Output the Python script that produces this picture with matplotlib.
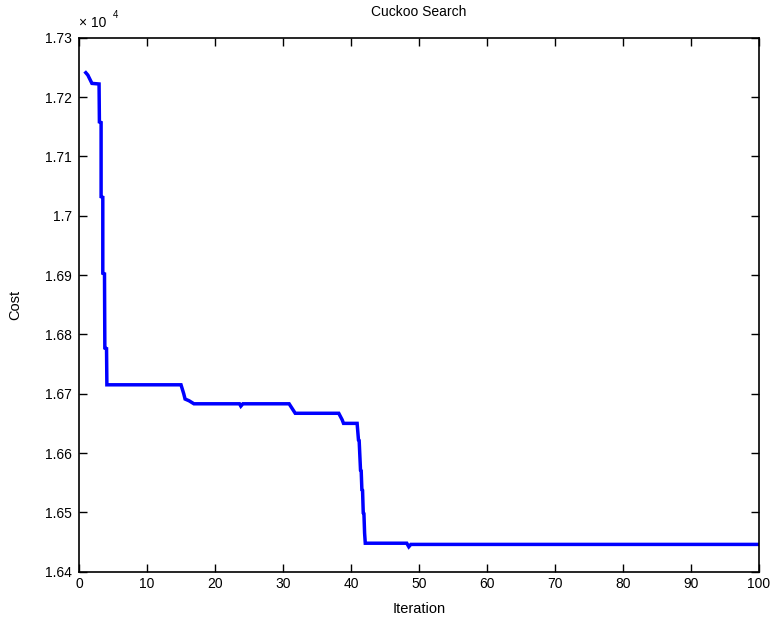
import matplotlib
matplotlib.use("Agg")
import matplotlib.pyplot as plt
from matplotlib.ticker import FuncFormatter, MultipleLocator

# best cost found so far, sampled at the points where it changes
iteration = [1.0, 1.3, 1.9, 2.95, 3.0, 3.25, 3.25, 3.5, 3.5, 3.75, 3.8, 4.05, 4.1,
             15.0, 15.4, 15.6, 16.2, 16.9, 23.6, 23.8, 24.1, 30.9, 31.8, 38.2,
             38.7, 38.9, 40.9, 41.1, 41.2, 41.4, 41.5, 41.6, 41.7, 41.8, 41.9,
             42.0, 42.1, 48.2, 48.5, 48.8, 100.0]
cost = [17241, 17237, 17223, 17222, 17158, 17157, 17032, 17031, 16903, 16902,
        16777, 16776, 16715, 16715, 16700, 16691, 16688, 16683, 16683, 16679,
        16683, 16683, 16667, 16667, 16656, 16650, 16650, 16622, 16621, 16571,
        16570, 16538, 16537, 16499, 16498, 16465, 16448, 16448, 16442, 16446,
        16446]

plt.rcParams['font.family'] = ['Liberation Sans', 'DejaVu Sans']

fig = plt.figure(figsize=(7.75, 6.23), dpi=100)
ax = fig.add_axes([79 / 775, 1 - 571.7 / 623, 680 / 775, 534 / 623])

ax.plot(iteration, cost, color='#0000ff', linewidth=2.5, solid_joinstyle='miter')

ax.set_xlim(0, 100)
ax.set_ylim(16400, 17300)
ax.xaxis.set_major_locator(MultipleLocator(10))
ax.yaxis.set_major_locator(MultipleLocator(100))
ax.yaxis.set_major_formatter(FuncFormatter(lambda v, p: f'{v / 1e4:g}'))

ax.tick_params(direction='in', length=6, width=1, top=True, right=True,
               labelsize=10, colors='black')
ax.tick_params(axis='y', pad=5)
ax.tick_params(axis='x', pad=4)
for s in ax.spines.values():
    s.set_linewidth(1.2)

ax.set_xlabel('Iteration', fontsize=10.5)
ax.set_ylabel('Cost', fontsize=10.5)
ax.xaxis.set_label_coords(0.5, -0.057)
ax.yaxis.set_label_coords(-0.084, 0.5)
ax.text(0.5, 1.048, 'Cuckoo Search', transform=ax.transAxes,
        ha='center', va='center', fontsize=10)

# exponent for the y tick labels
ax.text(0.0, 1.015, '× 10', transform=ax.transAxes, ha='left', va='bottom', fontsize=10)
ax.text(0.049, 1.033, '4', transform=ax.transAxes, ha='left', va='bottom', fontsize=7)

fig.savefig('out.png', dpi=100)
